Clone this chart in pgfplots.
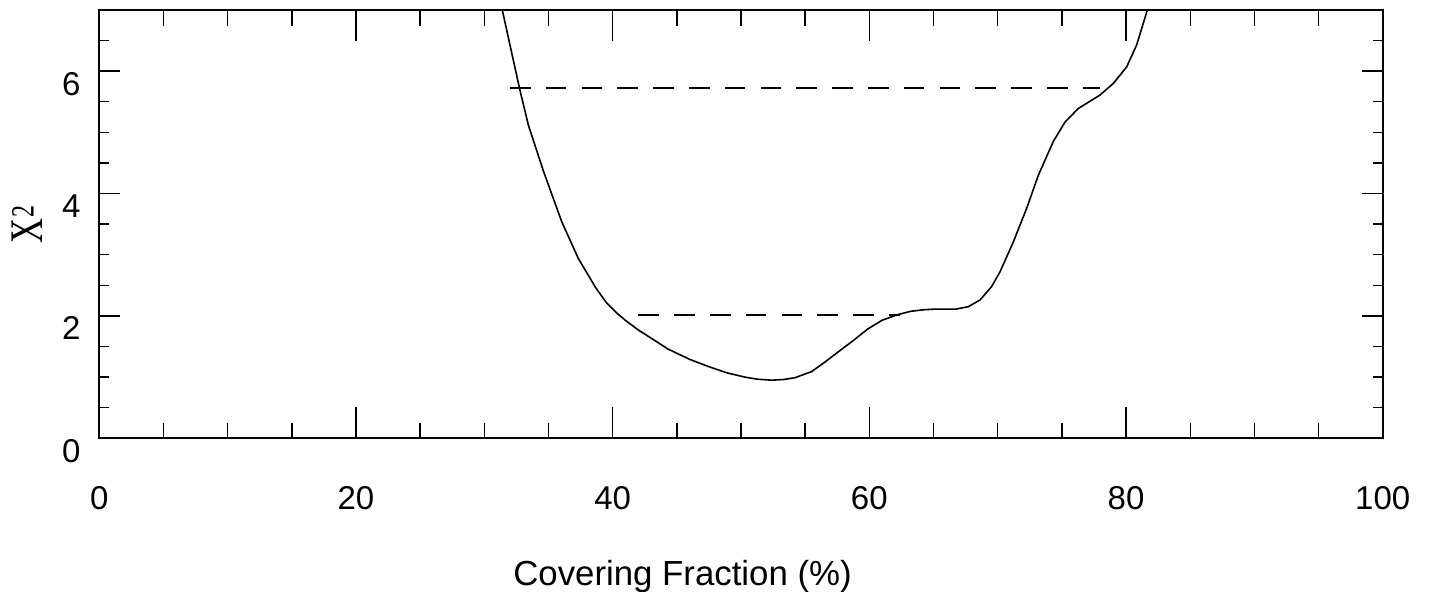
\documentclass[border=0pt]{standalone}
\usepackage{pgfplots}
\pgfplotsset{compat=1.18}
\usepackage{fontspec}
\setmainfont{Liberation Sans}
\newfontfamily\seriffont{Liberation Serif}
\usepackage{graphicx}

\pgfplotstableread{
x y
31.40 7.00
32.73 5.73
33.43 5.12
34.60 4.37
36.03 3.54
37.32 2.94
38.68 2.46
39.50 2.22
40.30 2.05
41.10 1.91
42.00 1.77
42.90 1.65
44.30 1.46
46.00 1.29
47.50 1.17
48.89 1.07
50.30 1.00
51.30 0.965
52.40 0.95
53.30 0.96
54.20 0.99
55.50 1.09
56.50 1.24
57.50 1.40
58.70 1.59
59.90 1.79
61.00 1.93
62.20 2.02
63.20 2.075
64.20 2.10
65.00 2.11
66.70 2.11
67.70 2.15
68.62 2.26
69.53 2.48
70.18 2.72
71.22 3.21
72.26 3.76
73.17 4.30
74.33 4.85
75.25 5.17
76.28 5.39
77.97 5.61
79.01 5.80
80.05 6.07
80.83 6.43
81.66 7.00
}\curve

\begin{document}
\begin{tikzpicture}
% x ticks (longer)
\begin{axis}[
  scale only axis, width=641.7pt, height=214.15pt,
  xmin=0, xmax=100, ymin=0, ymax=7,
  axis line style={draw=none},
  ytick=\empty,
  xtick={0,20,40,60,80,100},
  minor xtick={5,10,15,25,30,35,45,50,55,65,70,75,85,90,95},
  xtick pos=both, xticklabel pos=bottom,
  tick align=inside,
  major tick length=15.5pt, minor tick length=7.8pt,
  every tick/.style={line width=0.7pt, black},
  /pgf/number format/assume math mode=true,
  xticklabel style={anchor=base, inner sep=0pt, yshift=-35.6pt, font=\fontsize{16.5}{19}\selectfont},
]
\end{axis}
% main axis with y ticks and data
\begin{axis}[
  name=main,
  scale only axis, width=641.7pt, height=214.15pt,
  xmin=0, xmax=100, ymin=0, ymax=7,
  axis line style={line width=0.85pt, black},
  xtick=\empty,
  ytick={0,2,4,6},
  minor ytick={0.5,1,1.5,2.5,3,3.5,4.5,5,5.5,6.5},
  ytick pos=both, yticklabel pos=left,
  tick align=inside,
  major tick length=10.3pt, minor tick length=5pt,
  every tick/.style={line width=0.7pt, black},
  /pgf/number format/assume math mode=true,
  yticklabel style={anchor=base east, inner sep=0pt, xshift=-9.2pt, yshift=-12pt, font=\fontsize{16.5}{19}\selectfont},
]
\addplot[black, line width=0.8pt, line join=round] table[x=x, y=y] {\curve};
\addplot[black, line width=0.9pt, dash pattern=on 10.3pt off 7.6pt] coordinates {(32.0,5.73) (77.97,5.73)};
\addplot[black, line width=0.9pt, dash pattern=on 10.3pt off 7.6pt] coordinates {(42.0,2.01) (62.4,2.01)};
\end{axis}
\node[rotate=90, inner sep=0pt] at ([xshift=-35.9pt]main.west)
  {\seriffont\scalebox{1}[1.35]{\fontsize{17.3}{20}\selectfont X\kern0.6pt\raisebox{3.35pt}{\fontsize{12}{14}\selectfont 2}}};
\node[anchor=base, inner sep=0pt, font=\fontsize{17.4}{20}\selectfont] at ([xshift=291.6pt, yshift=-73.85pt]main.south west) {Covering Fraction (\%)};
\pgfresetboundingbox
\path ([xshift=-49.65pt,yshift=-76.85pt]main.south west) rectangle ([xshift=25.65pt,yshift=5pt]main.north east);
\end{tikzpicture}
\end{document}
